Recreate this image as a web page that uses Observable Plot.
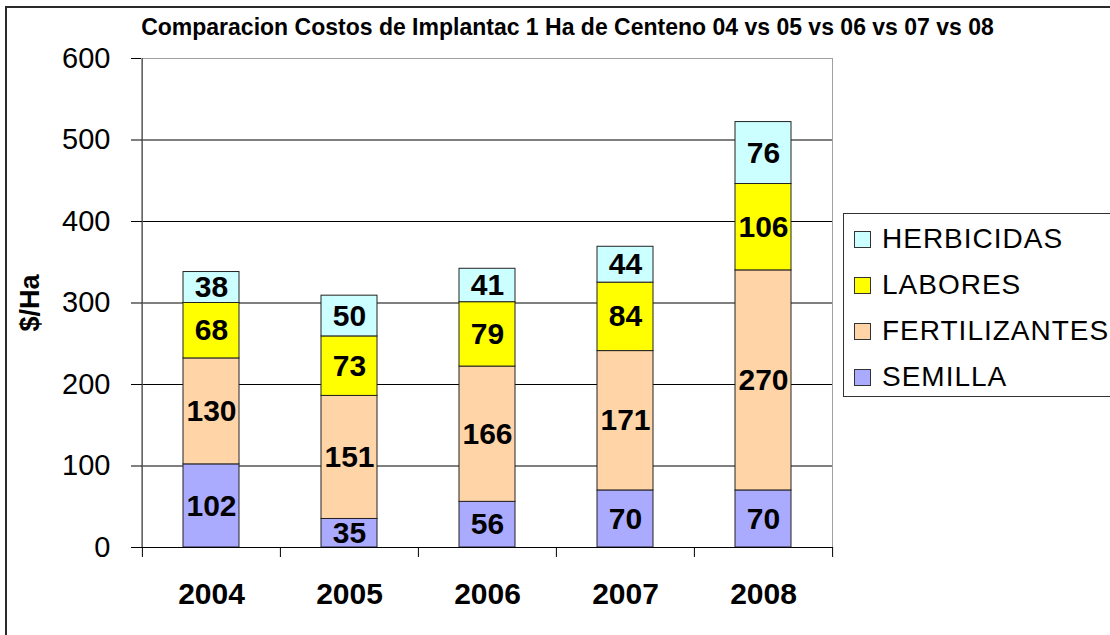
<!DOCTYPE html>
<html><head><meta charset="utf-8">
<script src="https://cdn.jsdelivr.net/npm/d3@7"></script>
<script src="https://cdn.jsdelivr.net/npm/@observablehq/plot@0.6"></script>
<style>
html,body{margin:0;padding:0;background:#fff;}
#wrap{position:relative;width:1110px;height:635px;overflow:hidden;font-family:"Liberation Sans",Arial,sans-serif;}
#wrap svg{position:absolute;left:0;top:0;}
#frame{position:absolute;left:5px;top:6px;width:1200px;height:700px;border-left:2px solid #2a2a2a;border-top:2px solid #2a2a2a;}
#title{position:absolute;top:15.5px;left:567.5px;transform:translateX(-50%);white-space:nowrap;font-weight:bold;font-size:23px;line-height:23px;color:#000;}
#legend{position:absolute;left:843px;top:213px;width:300px;height:184px;box-sizing:border-box;border:1px solid #333;padding-top:2px;background:#fff;}
.row{height:46px;display:flex;align-items:center;}
.sw{width:15px;height:15px;border:1px solid #333;margin-left:10px;margin-right:11px;flex:none;}
.lab{font-size:28px;line-height:28px;letter-spacing:1px;color:#000;white-space:nowrap;}
</style>
</head><body>
<div id="wrap"></div>
<script>
const titleText = "Comparacion Costos de Implantac 1 Ha de Centeno 04 vs 05 vs 06 vs 07 vs 08";
const yLabel = "$/Ha";
const years = ["2004","2005","2006","2007","2008"];
const seriesNames = ["SEMILLA","FERTILIZANTES","LABORES","HERBICIDAS"];
const seriesColors = ["#AAAAFF","#FFD5A8","#FFFF00","#CCFFFF"];
const semilla = [102,35,56,70,70];
const fertilizantes = [130,151,166,171,270];
const labores = [68,73,79,84,106];
const herbicidas = [38,50,41,44,76];
const yTicks = [0,100,200,300,400,500,600];
const gridTicks = [100,200,300,400,500];

const seriesValues = [semilla, fertilizantes, labores, herbicidas];
const rows = [];
seriesNames.forEach((s,i)=>years.forEach((y,j)=>rows.push({year:y, serie:s, value:seriesValues[i][j]})));

const W = 1110, H = 635, mL = 141, mR = 278, mT = 58, mB = 88;
const half = (W - mL - mR) / years.length / 2;

const chart = Plot.plot({
  width: W, height: H,
  marginLeft: mL, marginRight: mR, marginTop: mT, marginBottom: mB,
  style: {fontFamily: "Liberation Sans, Arial, sans-serif", background: "#fff", overflow: "visible"},
  x: {domain: years, padding: 0, axis: null},
  y: {domain: [0, 600], axis: null},
  color: {domain: seriesNames, range: seriesColors},
  marks: [
    Plot.frame({stroke: "#a0a0a0"}),
    Plot.ruleY(gridTicks, {stroke: "#000"}),
    Plot.ruleX([years[0]], {x: d => d, dx: -half, stroke: "#555"}),
    Plot.barY(rows, {x: "year", y: "value", fill: "serie", z: "serie", order: seriesNames, stroke: "#222", strokeWidth: 1, insetLeft: 41, insetRight: 41}),
    Plot.ruleY([0], {stroke: "#000"}),
    Plot.ruleX(years, {x: d => d, dx: -half, y1: 0, y2: -12.3, stroke: "#000"}),
    Plot.ruleX([years[years.length-1]], {x: d => d, dx: half, y1: 0, y2: -12.3, stroke: "#000"}),
    Plot.text(rows, Plot.stackY({x: "year", y: "value", z: "serie", text: "value", order: seriesNames, fontSize: 30, fontWeight: "bold", fill: "#000"})),
    Plot.axisY({ticks: yTicks, tickSize: 10, tickPadding: 21, fontSize: 29, label: null, stroke: "#000"}),
    Plot.axisX({tickSize: 0, tickPadding: 35, fontSize: 30, fontWeight: "bold", label: null}),
    Plot.text([yLabel], {frameAnchor: "left", dx: -111, rotate: -90, textAnchor: "middle", fontSize: 27, fontWeight: "bold", fill: "#000"})
  ]
});

const wrap = document.getElementById("wrap");
wrap.appendChild(chart);

const frame = document.createElement("div");
frame.id = "frame";
wrap.appendChild(frame);

const title = document.createElement("div");
title.id = "title";
title.textContent = titleText;
wrap.appendChild(title);

const legend = document.createElement("div");
legend.id = "legend";
[...seriesNames].reverse().forEach(name => {
  const i = seriesNames.indexOf(name);
  const row = document.createElement("div");
  row.className = "row";
  const sw = document.createElement("div");
  sw.className = "sw";
  sw.style.background = seriesColors[i];
  const lab = document.createElement("span");
  lab.className = "lab";
  lab.textContent = name;
  row.appendChild(sw); row.appendChild(lab);
  legend.appendChild(row);
});
wrap.appendChild(legend);
</script>
</body></html>
